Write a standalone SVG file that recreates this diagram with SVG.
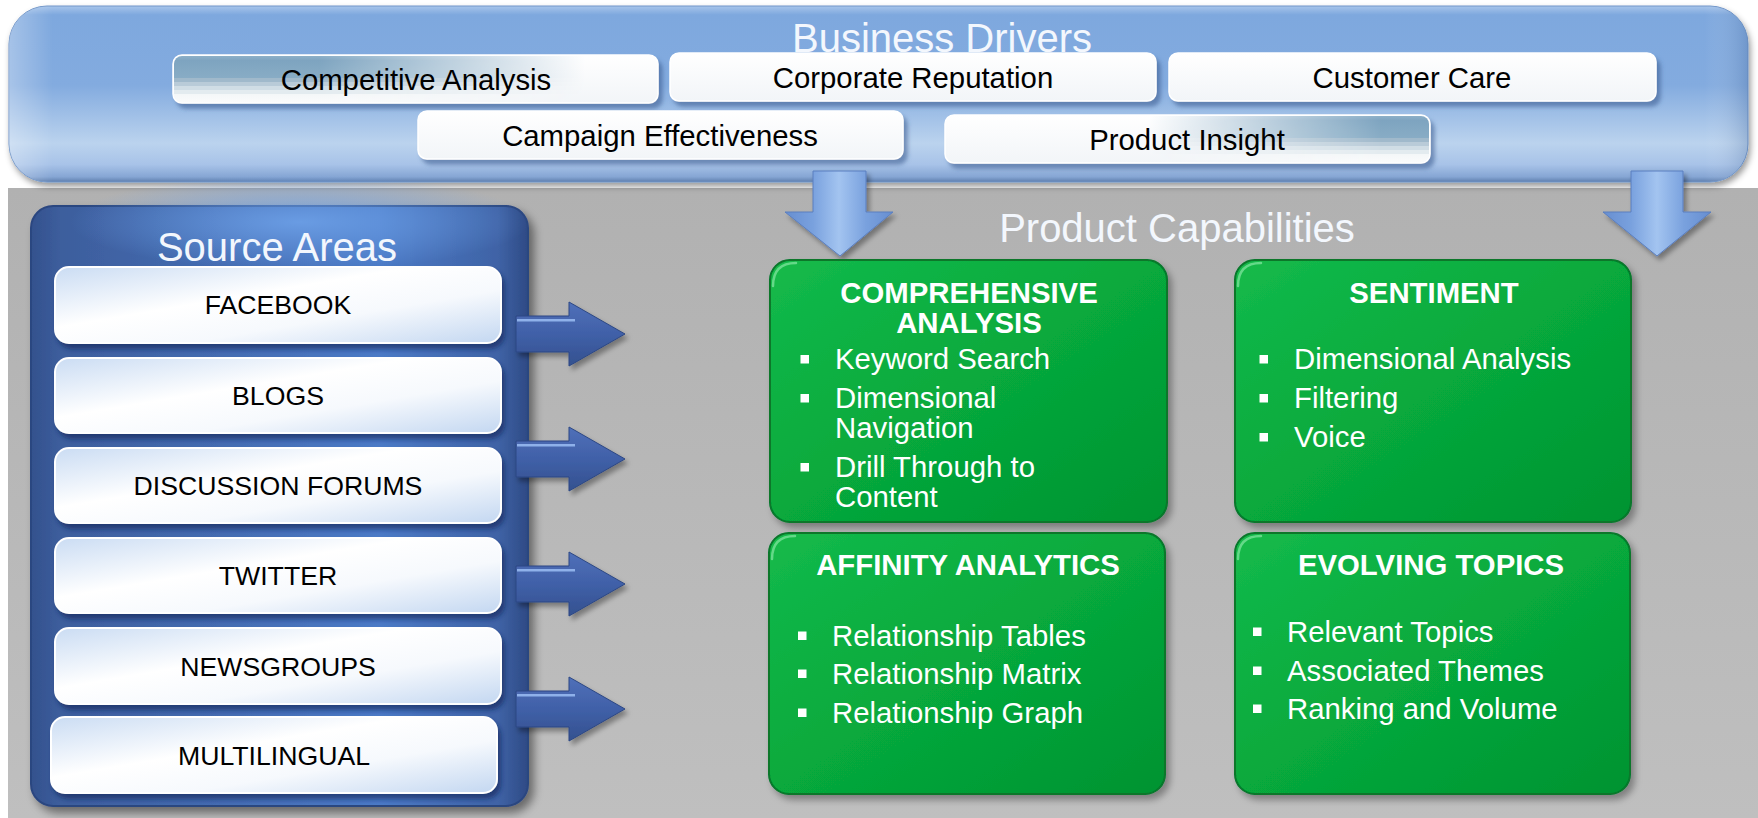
<svg xmlns="http://www.w3.org/2000/svg" width="1758" height="818" viewBox="0 0 1758 818">
<style>
  text{font-family:"Liberation Sans",Arial,Helvetica,sans-serif}
  .title{font-size:40px;fill:#f3f7fd;text-anchor:middle}
  .drv-box{fill:url(#gWhite);stroke:#ffffff;stroke-width:1.5;filter:url(#fDrv)}
  .drv-txt{font-size:29.33px;fill:#000;text-anchor:middle}
  .src-box{fill:url(#gSrc);stroke:#ffffff;stroke-width:2;filter:url(#fSrc)}
  .src-txt{font-size:26.67px;fill:#000;text-anchor:middle}
  .cap-box{fill:url(#gGreen);stroke:#07772b;stroke-width:2;filter:url(#fGreen)}
  .cap-gloss{fill:none;stroke:#7fe49d;stroke-width:2.5;stroke-linecap:round;opacity:.75}
  .cap-head{font-size:29.33px;font-weight:bold;fill:#ffffff;text-anchor:middle}
  .cap-item{font-size:29.33px;fill:#ffffff}
  .bullet{fill:#ffffff}
  .down{fill:url(#gDown);stroke:#5a7ebf;stroke-width:1;filter:url(#fArrow)}
  .right{filter:url(#fArrow)}
</style>
<defs>
  <linearGradient id="gBg" x1="0" y1="0" x2="0" y2="1">
    <stop offset="0" stop-color="#b1b1b1"/>
    <stop offset="1" stop-color="#bfbfbf"/>
  </linearGradient>
  <linearGradient id="gBanner" x1="0" y1="0" x2="0" y2="1">
    <stop offset="0" stop-color="#a8c5eb"/>
    <stop offset="0.05" stop-color="#7ea8de"/>
    <stop offset="0.45" stop-color="#83abdf"/>
    <stop offset="0.78" stop-color="#bbd3ee"/>
    <stop offset="0.9" stop-color="#a8c3e8"/>
    <stop offset="0.97" stop-color="#86a6d4"/>
    <stop offset="1" stop-color="#5f7fae"/>
  </linearGradient>
  <linearGradient id="gBannerSide" x1="0" y1="0" x2="1" y2="0">
    <stop offset="0" stop-color="#ffffff" stop-opacity=".3"/>
    <stop offset="0.025" stop-color="#ffffff" stop-opacity="0"/>
    <stop offset="0.975" stop-color="#ffffff" stop-opacity="0"/>
    <stop offset="1" stop-color="#3c5e90" stop-opacity=".25"/>
  </linearGradient>
  <linearGradient id="gWhite" x1="0" y1="0" x2="0" y2="1">
    <stop offset="0" stop-color="#ffffff"/>
    <stop offset="1" stop-color="#f2f5f8"/>
  </linearGradient>
  <!-- banded steel-blue fill used on two of the driver boxes -->
  <linearGradient id="gStripe" x1="0" y1="0" x2="0" y2="1">
    <stop offset="0" stop-color="#8cafc8"/>
    <stop offset="0.1" stop-color="#7ea4c0"/>
    <stop offset="0.47" stop-color="#88acc5"/>
    <stop offset="0.47" stop-color="#a0b9cb"/>
    <stop offset="0.56" stop-color="#a0b9cb"/>
    <stop offset="0.56" stop-color="#b9cbd8"/>
    <stop offset="0.65" stop-color="#b9cbd8"/>
    <stop offset="0.65" stop-color="#d0dde5"/>
    <stop offset="0.74" stop-color="#d0dde5"/>
    <stop offset="0.74" stop-color="#e3ebef"/>
    <stop offset="0.83" stop-color="#e3ebef"/>
    <stop offset="0.83" stop-color="#f4f7f8"/>
    <stop offset="1" stop-color="#fafbfb"/>
  </linearGradient>
  <linearGradient id="gFadeR" x1="0" y1="0" x2="1" y2="0">
    <stop offset="0" stop-color="#fff"/>
    <stop offset="0.3" stop-color="#fff"/>
    <stop offset="0.85" stop-color="#000"/>
  </linearGradient>
  <linearGradient id="gFadeL" x1="0" y1="0" x2="1" y2="0">
    <stop offset="0.42" stop-color="#000"/>
    <stop offset="0.9" stop-color="#fff"/>
    <stop offset="1" stop-color="#fff"/>
  </linearGradient>
  <mask id="mCompetitive"><rect x="173" y="55" width="485" height="48" fill="url(#gFadeR)"/></mask>
  <mask id="mInsight"><rect x="945" y="115" width="485" height="48" fill="url(#gFadeL)"/></mask>

  <linearGradient id="gPanel" x1="0" y1="0" x2="1" y2="0">
    <stop offset="0" stop-color="#33518d"/>
    <stop offset="0.06" stop-color="#3d5e9d"/>
    <stop offset="0.7" stop-color="#4b7ac6"/>
    <stop offset="0.94" stop-color="#3f63a6"/>
    <stop offset="1" stop-color="#2e4a85"/>
  </linearGradient>
  <radialGradient id="gPanelGlow" cx="0.5" cy="0.5" r="0.5">
    <stop offset="0" stop-color="#6fa3ea" stop-opacity=".85"/>
    <stop offset="1" stop-color="#6fa3ea" stop-opacity="0"/>
  </radialGradient>
  <linearGradient id="gSrc" x1="0" y1="0" x2="1" y2="1">
    <stop offset="0" stop-color="#cadcf3"/>
    <stop offset="0.4" stop-color="#ffffff"/>
    <stop offset="0.65" stop-color="#f6f9fd"/>
    <stop offset="1" stop-color="#c3d7f1"/>
  </linearGradient>
  <linearGradient id="gGreen" x1="0" y1="0" x2="1" y2="1">
    <stop offset="0" stop-color="#14ba4b"/>
    <stop offset="0.5" stop-color="#07a93c"/>
    <stop offset="1" stop-color="#009331"/>
  </linearGradient>
  <linearGradient id="gDown" x1="0" y1="0" x2="1" y2="0">
    <stop offset="0" stop-color="#678ed0"/>
    <stop offset="0.26" stop-color="#79a1de"/>
    <stop offset="0.5" stop-color="#a3c4f0"/>
    <stop offset="0.75" stop-color="#79a1de"/>
    <stop offset="1" stop-color="#678ed0"/>
  </linearGradient>
  <linearGradient id="gRight" x1="0" y1="0" x2="0" y2="1">
    <stop offset="0" stop-color="#5070b9"/>
    <stop offset="0.5" stop-color="#4060a8"/>
    <stop offset="1" stop-color="#34518f"/>
  </linearGradient>

  <filter id="fBanner" x="-5%" y="-10%" width="110%" height="130%">
    <feDropShadow dx="2" dy="4" stdDeviation="3" flood-color="#000" flood-opacity=".4"/>
  </filter>
  <filter id="fDrv" x="-10%" y="-30%" width="125%" height="170%">
    <feDropShadow dx="4" dy="5" stdDeviation="2" flood-color="#34558a" flood-opacity=".55"/>
  </filter>
  <filter id="fPanel" x="-10%" y="-10%" width="125%" height="125%">
    <feDropShadow dx="5" dy="6" stdDeviation="5" flood-color="#000" flood-opacity=".45"/>
  </filter>
  <filter id="fSrc" x="-10%" y="-30%" width="125%" height="170%">
    <feDropShadow dx="3" dy="5" stdDeviation="2.5" flood-color="#15285a" flood-opacity=".65"/>
  </filter>
  <filter id="fGreen" x="-10%" y="-10%" width="125%" height="125%">
    <feDropShadow dx="4" dy="5" stdDeviation="3.5" flood-color="#000" flood-opacity=".33"/>
  </filter>
  <filter id="fArrow" x="-20%" y="-20%" width="150%" height="150%">
    <feDropShadow dx="3" dy="4" stdDeviation="2.5" flood-color="#000" flood-opacity=".35"/>
  </filter>

  <!-- block arrow from a source to the capabilities, centred on y=0 -->
  <g id="rArrow">
    <path d="M516,-18 H569 V-32 L625,0 L569,32 V18 H516 Z" fill="url(#gRight)" stroke="#2c4784" stroke-width="1"/>
    <rect x="517" y="-15" width="58" height="2.5" fill="#8fb1ea"/>
  </g>
</defs>

<!-- page and grey stage -->
<rect width="1758" height="818" fill="#ffffff"/>
<rect x="8" y="188" width="1750" height="630" fill="url(#gBg)"/>

<!-- Business Drivers banner -->
<g id="business-drivers">
  <rect x="9" y="6" width="1739" height="176" rx="38" fill="url(#gBanner)" stroke="#7095c8" stroke-width="1" filter="url(#fBanner)"/>
  <rect x="9" y="6" width="1739" height="176" rx="38" fill="url(#gBannerSide)"/>
  <text class="title" x="942" y="52">Business Drivers</text>
</g>

<g id="driver-competitive-analysis">
  <rect class="drv-box" x="173" y="55" width="485" height="48" rx="9"/>
  <rect x="174" y="56" width="483" height="46" rx="8" fill="url(#gStripe)" mask="url(#mCompetitive)"/>
  <text class="drv-txt" x="416" y="90">Competitive Analysis</text>
</g>
<g id="driver-corporate-reputation">
  <rect class="drv-box" x="670" y="53" width="486" height="48" rx="9"/>
  <text class="drv-txt" x="913" y="88">Corporate Reputation</text>
</g>
<g id="driver-customer-care">
  <rect class="drv-box" x="1169" y="53" width="487" height="48" rx="9"/>
  <text class="drv-txt" x="1412" y="88">Customer Care</text>
</g>
<g id="driver-campaign-effectiveness">
  <rect class="drv-box" x="418" y="111" width="485" height="48" rx="9"/>
  <text class="drv-txt" x="660" y="146">Campaign Effectiveness</text>
</g>
<g id="driver-product-insight">
  <rect class="drv-box" x="945" y="115" width="485" height="48" rx="9"/>
  <rect x="946" y="116" width="483" height="46" rx="8" fill="url(#gStripe)" mask="url(#mInsight)"/>
  <text class="drv-txt" x="1187" y="150">Product Insight</text>
</g>

<!-- Source Areas panel -->
<g id="source-areas">
  <rect x="31" y="206" width="497" height="600" rx="22" fill="url(#gPanel)" stroke="#2c4680" stroke-width="2" filter="url(#fPanel)"/>
  <ellipse cx="300" cy="222" rx="230" ry="48" fill="url(#gPanelGlow)"/>
  <text class="title" x="277" y="261" fill="#ffffff">Source Areas</text>
</g>
<g id="source-facebook">
  <rect class="src-box" x="55" y="267" width="446" height="76" rx="14"/>
  <text class="src-txt" x="278" y="314">FACEBOOK</text>
</g>
<g id="source-blogs">
  <rect class="src-box" x="55" y="358" width="446" height="75" rx="14"/>
  <text class="src-txt" x="278" y="405">BLOGS</text>
</g>
<g id="source-discussion-forums">
  <rect class="src-box" x="55" y="448" width="446" height="75" rx="14"/>
  <text class="src-txt" x="278" y="495">DISCUSSION FORUMS</text>
</g>
<g id="source-twitter">
  <rect class="src-box" x="55" y="538" width="446" height="75" rx="14"/>
  <text class="src-txt" x="278" y="585">TWITTER</text>
</g>
<g id="source-newsgroups">
  <rect class="src-box" x="55" y="628" width="446" height="76" rx="14"/>
  <text class="src-txt" x="278" y="676">NEWSGROUPS</text>
</g>
<g id="source-multilingual">
  <rect class="src-box" x="51" y="717" width="446" height="76" rx="14"/>
  <text class="src-txt" x="274" y="765">MULTILINGUAL</text>
</g>

<!-- connectors -->
<g id="connectors">
  <path class="down" d="M813,171 H866 V212 H893 L840,256 L785,212 H813 Z"/>
  <path class="down" d="M1631,171 H1683 V212 H1711 L1657,256 L1603,212 H1631 Z"/>
  <use class="right" href="#rArrow" y="334"/>
  <use class="right" href="#rArrow" y="459"/>
  <use class="right" href="#rArrow" y="584"/>
  <use class="right" href="#rArrow" y="709"/>
</g>

<!-- Product Capabilities -->
<g id="product-capabilities">
  <text class="title" x="1177" y="242" fill="#ffffff">Product Capabilities</text>
</g>

<g id="cap-comprehensive-analysis">
  <rect class="cap-box" x="770" y="260" width="397" height="262" rx="20"/>
  <path class="cap-gloss" d="M773,286 Q773,263 796,263"/>
  <text class="cap-head" x="969" y="303">COMPREHENSIVE</text>
  <text class="cap-head" x="969" y="333">ANALYSIS</text>
  <rect class="bullet" x="800.5" y="355" width="8.5" height="8.5"/>
  <rect class="bullet" x="800.5" y="394" width="8.5" height="8.5"/>
  <rect class="bullet" x="800.5" y="463" width="8.5" height="8.5"/>
  <text class="cap-item" x="835" y="369">Keyword Search</text>
  <text class="cap-item" x="835" y="408">Dimensional</text>
  <text class="cap-item" x="835" y="438">Navigation</text>
  <text class="cap-item" x="835" y="477">Drill Through to</text>
  <text class="cap-item" x="835" y="507">Content</text>
</g>

<g id="cap-sentiment">
  <rect class="cap-box" x="1235" y="260" width="396" height="262" rx="20"/>
  <path class="cap-gloss" d="M1238,286 Q1238,263 1261,263"/>
  <text class="cap-head" x="1434" y="303">SENTIMENT</text>
  <rect class="bullet" x="1259.5" y="355" width="8.5" height="8.5"/>
  <rect class="bullet" x="1259.5" y="394" width="8.5" height="8.5"/>
  <rect class="bullet" x="1259.5" y="433" width="8.5" height="8.5"/>
  <text class="cap-item" x="1294" y="369">Dimensional Analysis</text>
  <text class="cap-item" x="1294" y="408">Filtering</text>
  <text class="cap-item" x="1294" y="447">Voice</text>
</g>

<g id="cap-affinity-analytics">
  <rect class="cap-box" x="769" y="533" width="396" height="261" rx="20"/>
  <path class="cap-gloss" d="M772,559 Q772,536 795,536"/>
  <text class="cap-head" x="968" y="575">AFFINITY ANALYTICS</text>
  <rect class="bullet" x="798" y="631.5" width="8.5" height="8.5"/>
  <rect class="bullet" x="798" y="669.5" width="8.5" height="8.5"/>
  <rect class="bullet" x="798" y="708.5" width="8.5" height="8.5"/>
  <text class="cap-item" x="832" y="646">Relationship Tables</text>
  <text class="cap-item" x="832" y="684">Relationship Matrix</text>
  <text class="cap-item" x="832" y="723">Relationship Graph</text>
</g>

<g id="cap-evolving-topics">
  <rect class="cap-box" x="1235" y="533" width="395" height="261" rx="20"/>
  <path class="cap-gloss" d="M1238,559 Q1238,536 1261,536"/>
  <text class="cap-head" x="1431" y="575">EVOLVING TOPICS</text>
  <rect class="bullet" x="1253" y="627.5" width="8.5" height="8.5"/>
  <rect class="bullet" x="1253" y="666.5" width="8.5" height="8.5"/>
  <rect class="bullet" x="1253" y="704.5" width="8.5" height="8.5"/>
  <text class="cap-item" x="1287" y="642">Relevant Topics</text>
  <text class="cap-item" x="1287" y="681">Associated Themes</text>
  <text class="cap-item" x="1287" y="719">Ranking and Volume</text>
</g>
</svg>
